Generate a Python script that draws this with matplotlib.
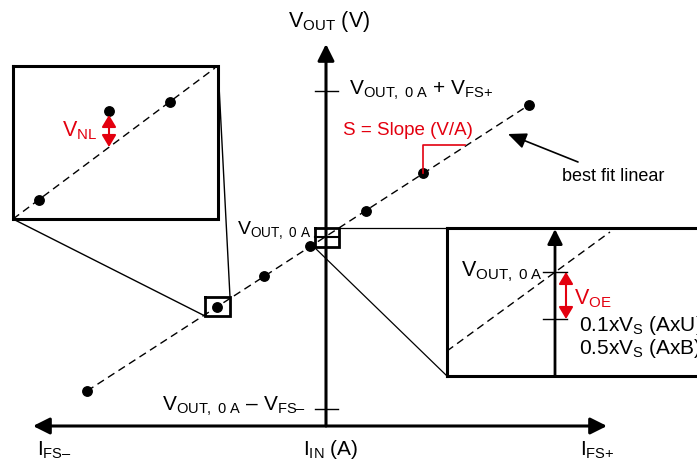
import matplotlib
matplotlib.use('Agg')
import matplotlib.pyplot as plt

plt.rcParams['font.family'] = ['Liberation Sans', 'DejaVu Sans']
plt.rcParams['mathtext.fontset'] = 'custom'
plt.rcParams['mathtext.rm'] = 'Liberation Sans'
plt.rcParams['mathtext.it'] = 'Liberation Sans:italic'
plt.rcParams['mathtext.bf'] = 'Liberation Sans:bold'

RED = '#e3000f'

# diagram coordinates (pixels of the reference, y grows downward)
# main transfer curve samples
main_x = [87, 217, 264, 310, 366, 423, 529]
main_y = [392, 308, 277, 247, 212, 174, 106]
fit_x = [87, 529]
fit_y = [392, 106]

# axes geometry
y_axis_x = 326
y_axis_top = 45
x_axis_y = 427
x_axis_left, x_axis_right = 33, 607
tick_fs_plus = 92
tick_fs_minus = 410

# left (nonlinearity) inset
nl_box = (13, 67, 218, 220)       # x0, y0, x1, y1
nl_pts_x = [39, 109, 170]
nl_pts_y = [201, 112, 103]
nl_fit_x = [13, 215]
nl_fit_y = [220, 69]
nl_arrow = (109, 116, 148)
zoom_box_nl = (205, 298, 230, 317)

# right (offset) inset
zoom_box_oe = (315, 229, 339, 248)
oe_box = (447, 229, 720, 377)
oe_axis_x = 555
oe_fit_x = [447, 610]
oe_fit_y = [352, 233]
oe_ticks = [273, 320]

fig = plt.figure(figsize=(6.97, 4.60), dpi=100)
ax = fig.add_axes([0, 0, 1, 1])
ax.set_xlim(0, 697)
ax.set_ylim(460, 0)
ax.axis('off')


def box(b, lw=2.0):
    x0, y0, x1, y1 = b
    ax.plot([x0, x1, x1, x0, x0], [y0, y0, y1, y1, y0], color='black', lw=lw,
            solid_joinstyle='miter', clip_on=False)


def arrow(xy, xytext, style='-|>', color='black', lw=2.2, ms=20, hl=0.5, hw=0.25):
    ax.annotate('', xy=xy, xytext=xytext,
                arrowprops=dict(arrowstyle=f'{style},head_length={hl},head_width={hw}',
                                color=color, lw=lw, shrinkA=0, shrinkB=0,
                                mutation_scale=ms))


dash = (0, (5.5, 3.5))

# main axes
arrow((y_axis_x, y_axis_top), (y_axis_x, x_axis_y))
arrow((x_axis_right, x_axis_y), (x_axis_left, x_axis_y), style='<|-|>')
for ty in [tick_fs_plus, tick_fs_minus]:
    ax.plot([315, 338], [ty, ty], color='black', lw=1.0)

# best fit line and samples
ax.plot(fit_x, fit_y, color='black', lw=1.0, linestyle=dash)
ax.plot(main_x, main_y, 'o', color='black', ms=6.8)

# slope bracket
ax.plot([423, 423, 465], [main_y[5], 146, 146], color=RED, lw=1.2)

# zoom boxes and connecting lines
box(zoom_box_nl, lw=2.0)
box(zoom_box_oe, lw=2.0)
ax.plot([315, 338], [238, 238], color='black', lw=1.5)
ax.plot([nl_box[0], zoom_box_nl[0]], [nl_box[3], zoom_box_nl[3]], color='black', lw=1.0)
ax.plot([nl_box[2], zoom_box_nl[2]], [nl_box[1], zoom_box_nl[1]], color='black', lw=1.0)
ax.plot([zoom_box_oe[2], oe_box[0]], [zoom_box_oe[1], oe_box[1]], color='black', lw=0.9)
ax.plot([313, oe_box[0]], [247, oe_box[3]], color='black', lw=0.9)

# left inset
ax.fill_between([nl_box[0], nl_box[2]], nl_box[1], nl_box[3], color='white', zorder=1)
box(nl_box, lw=2.2)
ax.plot(nl_fit_x, nl_fit_y, color='black', lw=1.0, linestyle=dash)
ax.plot(nl_pts_x, nl_pts_y, 'o', color='black', ms=6.8)
arrow((nl_arrow[0], nl_arrow[1]), (nl_arrow[0], nl_arrow[2]), style='<|-|>',
      color=RED, lw=1.5, ms=16, hl=0.45, hw=0.27)
ax.text(97, 131, r'V$_{\mathrm{NL}}$', color=RED, fontsize=15.5, ha='right', va='center')

# right inset
ax.plot([oe_box[0], oe_box[2]], [oe_box[1], oe_box[1]], color='black', lw=2.2, clip_on=True)
ax.plot([oe_box[0], oe_box[0]], [oe_box[1], oe_box[3]], color='black', lw=2.2)
ax.plot([oe_box[0], oe_box[2]], [oe_box[3], oe_box[3]], color='black', lw=2.2, clip_on=True)
ax.plot(oe_fit_x, oe_fit_y, color='black', lw=1.0, linestyle=dash)
arrow((oe_axis_x, 230), (oe_axis_x, oe_box[3]), lw=2.0, ms=18)
for ty in oe_ticks:
    ax.plot([543, 567], [ty, ty], color='black', lw=1.0)
arrow((566, oe_ticks[0]), (566, oe_ticks[1]), style='<|-|>', color=RED, lw=1.5,
      ms=16, hl=0.45, hw=0.27)

# labels
sub0a = r'_{\mathrm{OUT,\ 0\ A}}'
ax.text(329, 21, r'V$_{\mathrm{OUT}}$ (V)', fontsize=15.5, ha='center', va='center')
ax.text(349, 90, 'V$' + sub0a + r'$ + V$_{\mathrm{FS}{+}}$', fontsize=15,
        ha='left', va='center')
ax.text(343, 131, 'S = Slope (V/A)', color=RED, fontsize=13.5, ha='left', va='center')
ax.text(562, 177, 'best fit linear', fontsize=13, ha='left', va='center')
arrow((508, 135), (578, 163), lw=1.2, ms=14, hl=0.8, hw=0.35)
ax.text(311, 230, 'V$' + sub0a + '$', fontsize=14, ha='right', va='center')
ax.text(306, 406, 'V$' + sub0a + '$ \u2013 V$_{\\mathrm{FS\u2013}}$', fontsize=15,
        ha='right', va='center')
ax.text(461, 272, 'V$' + sub0a + '$', fontsize=15.5, ha='left', va='center')
ax.text(574, 299, r'V$_{\mathrm{OE}}$', color=RED, fontsize=15.5, ha='left', va='center')
ax.text(579, 326, r'0.1xV$_{\mathrm{S}}$ (AxU)', fontsize=15, ha='left', va='center')
ax.text(579, 349, r'0.5xV$_{\mathrm{S}}$ (AxB)', fontsize=15, ha='left', va='center')
ax.text(37, 450, 'I$_{\\mathrm{FS\u2013}}$', fontsize=15, ha='left', va='center')
ax.text(303, 450, r'I$_{\mathrm{IN}}$ (A)', fontsize=15, ha='left', va='center')
ax.text(580, 450, r'I$_{\mathrm{FS}{+}}$', fontsize=15, ha='left', va='center')

fig.savefig('out.png', dpi=100)
